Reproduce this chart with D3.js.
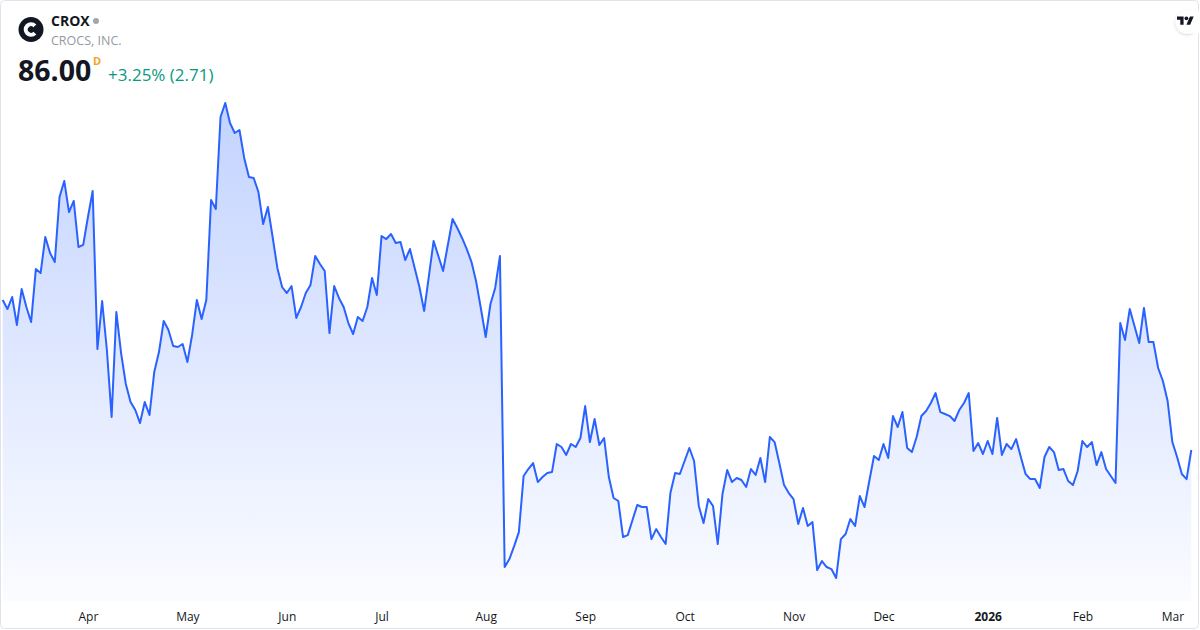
<!DOCTYPE html>
<html>
<head>
<meta charset="utf-8">
<script src="https://cdn.jsdelivr.net/npm/d3@7"></script>
<style>
  html, body { margin: 0; padding: 0; background: #fff; }
  svg { display: block; font-family: "Open Sans", "Noto Sans", sans-serif; }
</style>
</head>
<body>
<div id="chart"></div>
<script>
// daily closes, 6 Mar 2025 .. 6 Mar 2026
const closes = [
  99.95, 99.11, 100.23, 97.63, 100.97, 99.30, 97.90, 102.83, 102.46, 105.81,
  104.32, 103.48, 109.53, 111.02, 108.13, 109.16, 104.88, 105.07, 107.67, 110.09,
  95.39, 99.86, 95.30, 89.07, 98.83, 95.02, 92.14, 90.46, 89.72, 88.51,
  90.46, 89.26, 93.25, 95.11, 98.00, 97.16, 95.67, 95.58, 95.86, 94.18,
  96.70, 99.95, 98.18, 99.95, 109.25, 108.41, 116.97, 118.27, 116.41, 115.48,
  115.76, 113.16, 111.39, 111.30, 109.99, 107.02, 108.60, 105.81, 102.93, 101.16,
  100.60, 101.25, 98.28, 99.30, 100.60, 101.35, 104.04, 103.30, 102.65, 96.88,
  101.25, 100.14, 99.30, 97.81, 96.79, 98.37, 98.00, 99.30, 102.00, 100.42,
  105.90, 105.62, 106.09, 105.25, 105.34, 103.67, 104.69, 102.93, 101.16, 98.93,
  102.18, 105.44, 104.04, 102.65, 105.07, 107.48, 106.65, 105.72, 104.69, 103.48,
  101.62, 99.11, 96.51, 99.58, 101.07, 104.04, 75.12, 75.86, 77.07, 78.37,
  83.58, 84.23, 84.79, 83.02, 83.49, 83.86, 83.95, 86.56, 86.28, 85.54,
  86.56, 86.28, 87.12, 90.09, 86.74, 88.88, 86.47, 87.12, 83.49, 81.54,
  81.26, 77.91, 78.09, 79.49, 80.89, 80.70, 80.70, 77.72, 78.65, 77.91,
  77.26, 82.00, 83.86, 83.77, 84.98, 86.19, 84.98, 80.79, 79.21, 81.44,
  80.79, 77.26, 81.91, 84.14, 83.02, 83.40, 83.21, 82.56, 84.23, 83.68,
  85.26, 83.02, 87.21, 86.74, 84.79, 82.74, 82.00, 81.44, 79.12, 80.61,
  78.93, 79.30, 74.84, 75.68, 75.12, 74.93, 74.10, 77.72, 78.19, 79.58,
  78.93, 81.72, 80.70, 83.12, 85.44, 85.07, 86.56, 85.26, 89.16, 88.14,
  89.53, 86.19, 85.81, 87.21, 89.16, 89.63, 90.37, 91.30, 89.53, 89.35,
  89.16, 88.70, 89.72, 90.37, 91.30, 85.91, 86.65, 85.63, 86.84, 85.63,
  88.98, 85.54, 86.56, 86.09, 87.02, 85.35, 83.77, 83.30, 83.30, 82.47,
  85.35, 86.28, 85.81, 84.14, 84.23, 83.12, 82.74, 84.05, 86.84, 86.28,
  86.74, 84.60, 85.81, 84.23, 83.58, 82.93, 97.81, 96.23, 99.11, 97.53,
  95.95, 99.21, 96.04, 96.04, 93.63, 92.42, 90.56, 86.74, 85.35, 83.77,
  83.29, 86.00
]

// month labels sit on the first trading day of each month (index into closes)
const tickLabels = ['Apr', 'May', 'Jun', 'Jul', 'Aug', 'Sep', 'Oct', 'Nov', 'Dec', '2026', 'Feb', 'Mar']
const tickIndex = [18, 39, 60, 80, 102, 123, 144, 167, 186, 208, 228, 247]

const symbol = 'CROX'
const company = 'CROCS, INC.'
const lastPrice = '86.00'
const change = '+3.25% (2.71)'

const width = 1200
const height = 630
const lineColor = '#2962ff'

const svg = d3.select('#chart')
  .append('svg')
  .attr('width', width)
  .attr('height', height)

const defs = svg.append('defs')
const grad = defs.append('linearGradient')
  .attr('id', 'fillGrad')
  .attr('x1', 0).attr('y1', 0)
  .attr('x2', 0).attr('y2', 1)
grad.append('stop').attr('offset', '0%').attr('stop-color', lineColor).attr('stop-opacity', 0.28)
grad.append('stop').attr('offset', '100%').attr('stop-color', lineColor).attr('stop-opacity', 0.02)

const shadow = defs.append('filter').attr('id', 'shadow')
  .attr('x', '-50%').attr('y', '-50%').attr('width', '200%').attr('height', '200%')
shadow.append('feDropShadow')
  .attr('dx', 0).attr('dy', 1).attr('stdDeviation', 1.5)
  .attr('flood-color', '#000').attr('flood-opacity', 0.18)

// widget frame
svg.append('rect')
  .attr('x', 0.5).attr('y', 0.5)
  .attr('width', 1198).attr('height', 628)
  .attr('rx', 4)
  .attr('fill', '#fff')
  .attr('stroke', '#e0e3eb')

const x = d3.scaleLinear()
  .domain([0, closes.length - 1])
  .range([2.7, 1191.3])

const y = d3.scaleLinear()
  .domain(d3.extent(closes))
  .range([578, 103])

const area = d3.area()
  .x((d, i) => x(i))
  .y0(601)
  .y1(d => y(d))

const line = d3.line()
  .x((d, i) => x(i))
  .y(d => y(d))

svg.append('path')
  .datum(closes)
  .attr('d', area)
  .attr('fill', 'url(#fillGrad)')

svg.append('path')
  .datum(closes)
  .attr('d', line)
  .attr('fill', 'none')
  .attr('stroke', lineColor)
  .attr('stroke-width', 2)
  .attr('stroke-linejoin', 'round')

// x axis (month labels only)
const xAxis = d3.axisBottom(x)
  .tickValues(tickIndex)
  .tickSize(0)
  .tickPadding(0)
  .tickFormat((d, i) => tickLabels[i])

const xAxisG = svg.append('g')
  .attr('transform', 'translate(0,612)')
  .call(xAxis)
xAxisG.select('.domain').remove()
xAxisG.selectAll('text')
  .attr('fill', '#131722')
  .style('font-size', '12px')
  .style('font-family', '"Open Sans", "Noto Sans", sans-serif')
  .style('font-weight', d => d === 208 ? 700 : 400)

// header
const logo = svg.append('g').attr('transform', 'translate(31,29.5)')
logo.append('circle').attr('r', 12.5).attr('fill', '#131722')
logo.append('path')
  .attr('d', d3.arc()({ innerRadius: 3.2, outerRadius: 7.3, startAngle: 0.75, endAngle: 2 * Math.PI - 0.75 }))
  .attr('transform', 'rotate(90)')
  .attr('fill', '#fff')

svg.append('text')
  .attr('x', 51).attr('y', 26)
  .attr('fill', '#131722')
  .style('font-size', '14px')
  .style('font-weight', 700)
  .text(symbol)
svg.append('circle')
  .attr('cx', 96).attr('cy', 21)
  .attr('r', 3)
  .attr('fill', '#a3a6af')

svg.append('text')
  .attr('x', 51).attr('y', 45)
  .attr('fill', '#9598a1')
  .style('font-size', '12.5px')
  .text(company)

svg.append('text')
  .attr('x', 18).attr('y', 81)
  .attr('fill', '#131722')
  .style('font-size', '28.5px')
  .style('font-weight', 700)
  .text(lastPrice)

svg.append('text')
  .attr('x', 93).attr('y', 65)
  .attr('fill', '#f7a21b')
  .style('font-size', '11px')
  .style('font-weight', 700)
  .text('D')

svg.append('text')
  .attr('x', 108).attr('y', 80.5)
  .attr('fill', '#089981')
  .style('font-size', '17px')
  .text(change)

// TradingView badge
svg.append('circle')
  .attr('cx', 1187).attr('cy', 22).attr('r', 11.5)
  .attr('fill', '#fff')
  .attr('filter', 'url(#shadow)')
svg.append('rect')
  .attr('x', 1187).attr('y', 10.5)
  .attr('width', 13).attr('height', 23)
  .attr('fill', '#fff')
const tv = svg.append('g').attr('transform', 'translate(1177,14.5) scale(0.47)')
tv.append('path')
  .attr('d', 'M14 22H7V11H0V4h14v18zM28 22h-8l7.5-18h8L28 22z')
  .attr('fill', '#131722')
tv.append('circle').attr('cx', 20).attr('cy', 8).attr('r', 4).attr('fill', '#131722')
</script>
</body>
</html>
